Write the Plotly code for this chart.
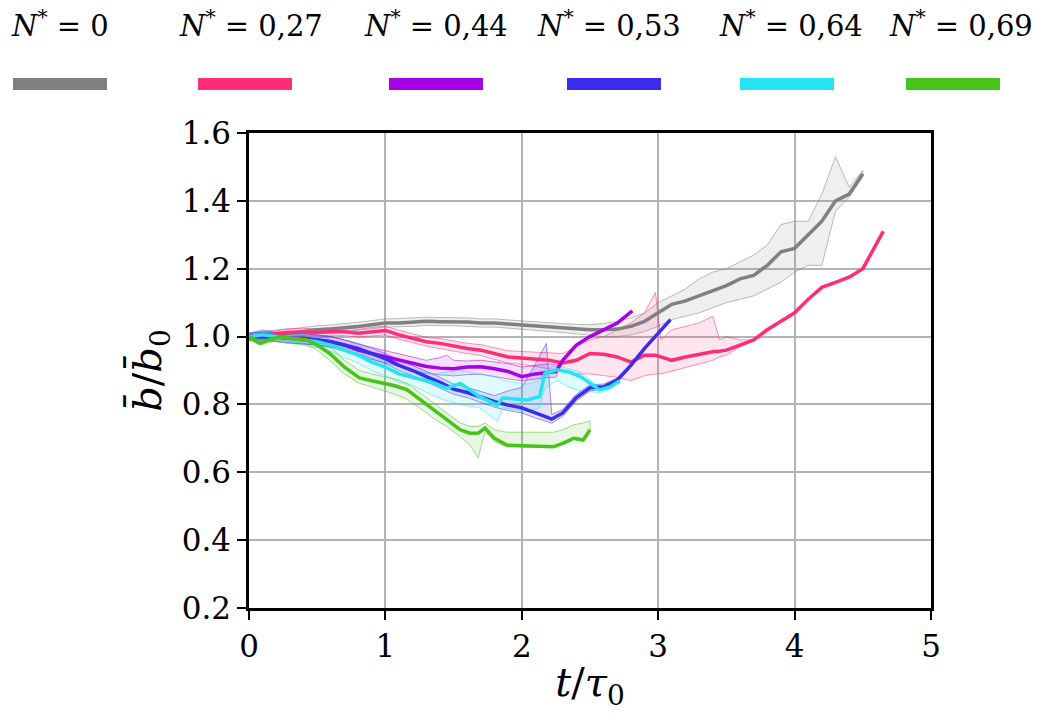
import plotly.graph_objects as go

# ---- series data: t/tau0, mean b/b0, and run envelope (lo / hi) ----
n_labels = ["0", "0,27", "0,44", "0,53", "0,64", "0,69"]
colors = ["#808080", "#ff2d78", "#a800e8", "#3b2cf0", "#22e4f2", "#46c41a"]
fills = ["rgba(128,128,128,0.22)", "rgba(255,45,120,0.22)", "rgba(168,0,232,0.22)",
         "rgba(80,70,235,0.28)", "rgba(34,228,242,0.25)", "rgba(70,196,26,0.22)"]

t_n0 = [0, 0.1, 0.2, 0.3, 0.4, 0.5, 0.6, 0.7, 0.8, 0.9, 1.0, 1.1, 1.2, 1.3, 1.4, 1.5,
        1.6, 1.7, 1.8, 1.9, 2.0, 2.1, 2.2, 2.3, 2.4, 2.5, 2.6, 2.7, 2.8, 2.9, 3.0, 3.1,
        3.2, 3.3, 3.4, 3.5, 3.6, 3.7, 3.8, 3.9, 4.0, 4.1, 4.2, 4.3, 4.4, 4.5]
b_n0 = [1.00, 1.00, 1.005, 1.01, 1.015, 1.02, 1.022, 1.025, 1.03, 1.035, 1.04, 1.04,
        1.042, 1.045, 1.044, 1.044, 1.043, 1.04, 1.04, 1.037, 1.034, 1.03, 1.027, 1.025,
        1.022, 1.02, 1.02, 1.022, 1.03, 1.045, 1.07, 1.095, 1.105, 1.12, 1.135, 1.15,
        1.17, 1.18, 1.21, 1.25, 1.26, 1.30, 1.34, 1.40, 1.42, 1.48]
lo_n0 = [0.99, 0.99, 0.995, 0.998, 1.003, 1.008, 1.01, 1.013, 1.018, 1.023, 1.028, 1.028,
         1.03, 1.033, 1.032, 1.032, 1.031, 1.028, 1.028, 1.025, 1.022, 1.018, 1.015, 1.012,
         1.008, 1.005, 1.0, 1.0, 1.005, 1.015, 1.03, 1.05, 1.06, 1.07, 1.085, 1.10,
         1.11, 1.12, 1.14, 1.16, 1.19, 1.21, 1.21, 1.37, 1.41, 1.47]
hi_n0 = [1.01, 1.012, 1.017, 1.022, 1.027, 1.032, 1.034, 1.037, 1.042, 1.047, 1.052, 1.053,
         1.055, 1.057, 1.056, 1.056, 1.055, 1.052, 1.052, 1.049, 1.046, 1.042, 1.04, 1.038,
         1.036, 1.035, 1.038, 1.045, 1.055, 1.07, 1.10, 1.12, 1.14, 1.17, 1.19, 1.20,
         1.22, 1.24, 1.27, 1.33, 1.34, 1.34, 1.42, 1.53, 1.44, 1.49]

t_n27 = [0, 0.1, 0.2, 0.3, 0.4, 0.5, 0.6, 0.7, 0.8, 0.9, 1.0, 1.1, 1.2, 1.3, 1.4, 1.5,
         1.6, 1.7, 1.8, 1.9, 2.0, 2.1, 2.2, 2.3, 2.4, 2.5, 2.6, 2.7, 2.8, 2.9, 2.98, 3.02,
         3.1, 3.2, 3.3, 3.4, 3.45, 3.5, 3.6, 3.7, 3.8, 3.9, 4.0, 4.1, 4.2, 4.3, 4.4, 4.5,
         4.6, 4.65]
b_n27 = [1.00, 1.005, 1.01, 1.013, 1.013, 1.012, 1.015, 1.014, 1.01, 1.015, 1.018, 1.005,
         0.995, 0.985, 0.98, 0.972, 0.965, 0.96, 0.95, 0.94, 0.937, 0.933, 0.93, 0.922,
         0.93, 0.95, 0.948, 0.94, 0.925, 0.945, 0.945, 0.94, 0.93, 0.94, 0.948, 0.955,
         0.957, 0.96, 0.975, 0.99, 1.02, 1.045, 1.07, 1.11, 1.145, 1.16, 1.175, 1.20,
         1.27, 1.31]
lo_n27 = [0.99, 0.995, 1.0, 1.002, 1.002, 1.001, 1.004, 1.003, 0.999, 1.003, 1.005, 0.992,
          0.982, 0.972, 0.966, 0.957, 0.95, 0.944, 0.933, 0.922, 0.918, 0.912, 0.905, 0.90,
          0.89, 0.89, 0.885, 0.88, 0.87, 0.885, 0.89, 0.89, 0.90, 0.91, 0.92, 0.93,
          0.94, 0.945, 0.97, 0.99, 1.02, 1.045, 1.07, 1.11, 1.145, 1.16, 1.175, 1.20,
          1.27, 1.31]
hi_n27 = [1.01, 1.015, 1.02, 1.024, 1.024, 1.023, 1.026, 1.025, 1.021, 1.027, 1.03, 1.018,
          1.008, 0.998, 0.994, 0.987, 0.98, 0.976, 0.967, 0.958, 0.956, 0.954, 0.952, 0.95,
          0.97, 0.99, 1.0, 1.02, 1.04, 1.07, 1.13, 0.99, 1.02, 1.03, 1.04, 1.06,
          0.99, 1.0, 0.99, 0.99, 1.02, 1.045, 1.07, 1.11, 1.145, 1.16, 1.175, 1.20,
          1.27, 1.31]

t_n44 = [0, 0.1, 0.2, 0.3, 0.4, 0.5, 0.6, 0.7, 0.8, 0.9, 1.0, 1.1, 1.2, 1.3, 1.4, 1.45,
         1.5, 1.6, 1.7, 1.8, 1.9, 2.0, 2.1, 2.2, 2.25, 2.3, 2.4, 2.5, 2.6, 2.7, 2.81]
b_n44 = [1.00, 1.005, 1.0, 0.995, 0.995, 0.99, 0.985, 0.975, 0.96, 0.95, 0.94, 0.93,
         0.92, 0.912, 0.907, 0.906, 0.905, 0.91, 0.911, 0.905, 0.897, 0.882, 0.89, 0.895,
         0.897, 0.93, 0.975, 1.0, 1.02, 1.04, 1.076]
lo_n44 = [0.99, 0.99, 0.985, 0.98, 0.98, 0.975, 0.968, 0.958, 0.943, 0.932, 0.922, 0.912,
          0.90, 0.892, 0.887, 0.886, 0.884, 0.888, 0.889, 0.882, 0.875, 0.87, 0.875, 0.88,
          0.88, 0.93, 0.975, 1.0, 1.02, 1.04, 1.076]
hi_n44 = [1.01, 1.018, 1.012, 1.01, 1.01, 1.005, 1.0, 0.99, 0.977, 0.968, 0.958, 0.948,
          0.938, 0.93, 0.938, 0.945, 0.93, 0.928, 0.93, 0.925, 0.92, 0.91, 0.915, 0.92,
          0.915, 0.93, 0.975, 1.0, 1.02, 1.04, 1.076]

t_n53 = [0, 0.1, 0.2, 0.3, 0.4, 0.5, 0.6, 0.7, 0.8, 0.9, 1.0, 1.1, 1.2, 1.3, 1.4, 1.5,
         1.6, 1.7, 1.8, 1.9, 2.0, 2.1, 2.18, 2.22, 2.3, 2.4, 2.5, 2.6, 2.7, 2.8, 2.9,
         3.0, 3.09]
b_n53 = [1.00, 1.0, 0.998, 0.995, 0.99, 0.99, 0.985, 0.975, 0.965, 0.95, 0.935, 0.915,
         0.90, 0.882, 0.865, 0.845, 0.835, 0.822, 0.808, 0.798, 0.79, 0.775, 0.763, 0.757,
         0.775, 0.82, 0.849, 0.852, 0.872, 0.915, 0.965, 1.01, 1.05]
lo_n53 = [0.99, 0.99, 0.985, 0.982, 0.977, 0.976, 0.97, 0.96, 0.95, 0.935, 0.92, 0.9,
          0.885, 0.866, 0.848, 0.83, 0.82, 0.806, 0.792, 0.782, 0.775, 0.76, 0.75, 0.745,
          0.765, 0.81, 0.84, 0.845, 0.866, 0.91, 0.965, 1.01, 1.05]
hi_n53 = [1.01, 1.012, 1.01, 1.008, 1.004, 1.004, 1.0, 0.99, 0.98, 0.966, 0.95, 0.93,
          0.915, 0.898, 0.88, 0.86, 0.85, 0.838, 0.826, 0.84, 0.85, 0.92, 0.98, 0.77,
          0.785, 0.83, 0.858, 0.86, 0.878, 0.92, 0.965, 1.01, 1.05]

t_n64 = [0, 0.1, 0.2, 0.3, 0.4, 0.5, 0.6, 0.7, 0.8, 0.9, 1.0, 1.1, 1.2, 1.33, 1.45,
         1.55, 1.69, 1.82, 1.86, 2.04, 2.13, 2.17, 2.26, 2.35, 2.43, 2.57, 2.65, 2.72]
b_n64 = [1.00, 1.005, 1.0, 0.995, 0.99, 0.985, 0.975, 0.96, 0.945, 0.925, 0.91, 0.89,
         0.88, 0.867, 0.848, 0.862, 0.823, 0.798, 0.819, 0.813, 0.823, 0.892, 0.902,
         0.895, 0.882, 0.843, 0.852, 0.87]
lo_n64 = [0.99, 0.99, 0.985, 0.98, 0.975, 0.968, 0.956, 0.94, 0.922, 0.9, 0.885, 0.865,
          0.855, 0.83, 0.81, 0.80, 0.79, 0.75, 0.79, 0.78, 0.79, 0.85, 0.87, 0.85, 0.84,
          0.835, 0.845, 0.87]
hi_n64 = [1.01, 1.02, 1.015, 1.01, 1.006, 1.0, 0.99, 0.977, 0.962, 0.945, 0.93, 0.912,
          0.90, 0.89, 0.895, 0.90, 0.89, 0.88, 0.87, 0.86, 0.87, 0.905, 0.915, 0.905,
          0.895, 0.85, 0.86, 0.87]

t_n69 = [0, 0.08, 0.15, 0.23, 0.3, 0.42, 0.5, 0.59, 0.7, 0.81, 0.9, 0.98, 1.07, 1.16,
         1.25, 1.35, 1.45, 1.55, 1.62, 1.68, 1.73, 1.8, 1.89, 2.0, 2.1, 2.23, 2.3, 2.38,
         2.45, 2.5]
b_n69 = [1.00, 0.98, 0.99, 1.0, 0.995, 0.99, 0.975, 0.951, 0.91, 0.878, 0.87, 0.862,
         0.855, 0.843, 0.815, 0.784, 0.755, 0.725, 0.715, 0.715, 0.73, 0.70, 0.68, 0.678,
         0.677, 0.675, 0.685, 0.70, 0.695, 0.725]
lo_n69 = [0.99, 0.975, 0.982, 0.99, 0.985, 0.978, 0.96, 0.93, 0.89, 0.862, 0.852, 0.842,
          0.83, 0.815, 0.79, 0.76, 0.735, 0.705, 0.68, 0.642, 0.72, 0.69, 0.675, 0.675,
          0.675, 0.673, 0.682, 0.697, 0.692, 0.722]
hi_n69 = [1.01, 0.995, 1.0, 1.008, 1.005, 1.0, 0.99, 0.972, 0.93, 0.9, 0.89, 0.882,
          0.875, 0.862, 0.835, 0.805, 0.775, 0.745, 0.735, 0.735, 0.745, 0.725, 0.718,
          0.718, 0.718, 0.718, 0.725, 0.74, 0.745, 0.752]

series = [
    (t_n0, b_n0, lo_n0, hi_n0),
    (t_n27, b_n27, lo_n27, hi_n27),
    (t_n44, b_n44, lo_n44, hi_n44),
    (t_n53, b_n53, lo_n53, hi_n53),
    (t_n64, b_n64, lo_n64, hi_n64),
    (t_n69, b_n69, lo_n69, hi_n69),
]

x_ticks = [0, 1, 2, 3, 4, 5]
y_ticks = [0.2, 0.4, 0.6, 0.8, 1.0, 1.2, 1.4, 1.6]

fig = go.Figure()

# run envelopes (filled polygons with faint edge lines)
for (t, b, lo, hi), col, fc in zip(series, colors, fills):
    fig.add_trace(go.Scatter(
        x=list(t) + list(t)[::-1], y=list(hi) + list(lo)[::-1],
        mode="lines", fill="toself", fillcolor=fc,
        line=dict(color=col, width=1), opacity=0.55,
        hoverinfo="skip", showlegend=False))

# mean curves
for (t, b, lo, hi), col in zip(series, colors):
    fig.add_trace(go.Scatter(x=t, y=b, mode="lines",
                             line=dict(color=col, width=3.5),
                             showlegend=False))

# plot area in pixels, used to place the header key in paper units
L, R, T, B = 249, 931, 133, 608
W, H = R - L, B - T


def px_x(p):
    return (p - L) / W


def px_y(p):
    return (B - p) / H


label_cx = [60, 251, 436, 609, 791, 961]
bar_cx = [60, 245, 436, 614, 787, 953]
shapes = []
annotations = []
for lab, col, lx, bx in zip(n_labels, colors, label_cx, bar_cx):
    annotations.append(dict(
        text="<i>N</i><sup>*</sup>\u00a0=\u00a0" + lab, x=px_x(lx), y=px_y(24),
        xref="paper", yref="paper", showarrow=False,
        xanchor="center", yanchor="middle",
        font=dict(family="DejaVu Serif", size=29, color="black")))
    shapes.append(dict(type="rect", xref="paper", yref="paper",
                       x0=px_x(bx - 47), x1=px_x(bx + 47),
                       y0=px_y(90), y1=px_y(78),
                       fillcolor=col, line=dict(width=0)))

fig.update_layout(
    width=1047, height=726,
    margin=dict(l=L, r=1047 - R, t=T, b=726 - B),
    paper_bgcolor="white", plot_bgcolor="white",
    shapes=shapes, annotations=annotations,
    font=dict(family="DejaVu Serif", size=31, color="black"),
    xaxis=dict(range=[0, 5], tickvals=x_ticks, ticktext=[str(v) for v in x_ticks],
               showgrid=True, gridcolor="#b4b4b4", gridwidth=2,
               showline=True, linecolor="black", linewidth=2.5, mirror=True,
               ticks="outside", ticklen=9, tickwidth=2, tickcolor="black",
               zeroline=False,
               title=dict(text="<i>t</i>/<i>τ</i><sub>0</sub>", standoff=6,
                          font=dict(size=40))),
    yaxis=dict(range=[0.2, 1.6], tickvals=y_ticks,
               ticktext=["%.1f" % v for v in y_ticks],
               showgrid=True, gridcolor="#b4b4b4", gridwidth=2,
               showline=True, linecolor="black", linewidth=2.5, mirror=True,
               ticks="outside", ticklen=9, tickwidth=2, tickcolor="black",
               zeroline=False,
               title=dict(text="<i>b\u0304</i>/<i>b\u0304</i><sub>0</sub>", standoff=8,
                          font=dict(size=40))),
)

fig.write_html("out.html")
